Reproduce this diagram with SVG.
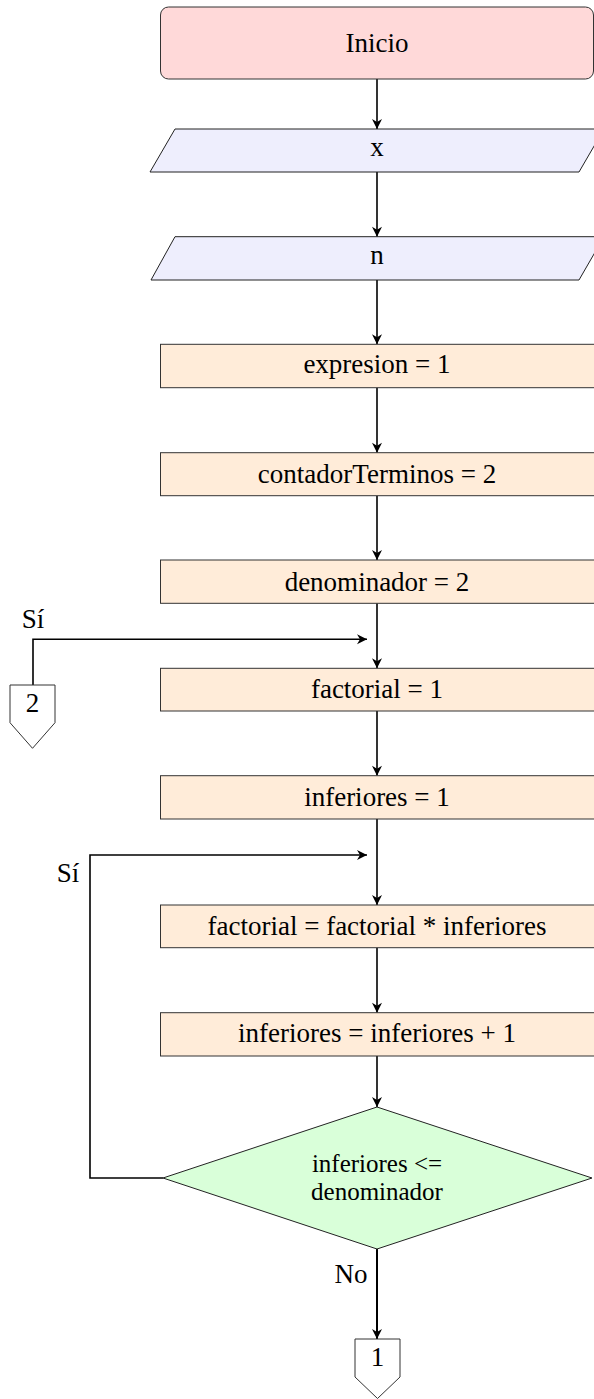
<svg xmlns="http://www.w3.org/2000/svg" width="594" height="1399" viewBox="0 0 594 1399" font-family="'Liberation Serif', 'DejaVu Serif', serif">
<defs>
<style>
text{font-family:'Liberation Serif','DejaVu Serif',serif}
.t{font-size:27px;fill:#000;text-anchor:middle}
.proc{fill:#ffecd9;stroke:#333;stroke-width:1}
.io{fill:#eeeefd;stroke:#222;stroke-width:1}
.start{fill:#ffd9d9;stroke:#333;stroke-width:1}
.dec{fill:#d9ffd9;stroke:#222;stroke-width:1}
.conn{fill:#fff;stroke:#333;stroke-width:1}
.edge{fill:none;stroke:#000;stroke-width:1.6}
</style>
<marker id="arr" viewBox="-11 -6 12 12" refX="0" refY="0" markerWidth="12" markerHeight="12" markerUnits="userSpaceOnUse" orient="auto">
<path d="M0,0 L-10,-5 L-7,0 L-10,5 Z" fill="#000"/>
</marker>
</defs>
<g id="connectors">
<line class="edge" x1="377" y1="79" x2="377" y2="129" marker-end="url(#arr)"/>
<line class="edge" x1="377" y1="172" x2="377" y2="236.7" marker-end="url(#arr)"/>
<line class="edge" x1="377" y1="280" x2="377" y2="344.3" marker-end="url(#arr)"/>
<line class="edge" x1="377" y1="387.7" x2="377" y2="452.7" marker-end="url(#arr)"/>
<line class="edge" x1="377" y1="495.7" x2="377" y2="560" marker-end="url(#arr)"/>
<line class="edge" x1="377" y1="603.3" x2="377" y2="668.3" marker-end="url(#arr)"/>
<line class="edge" x1="377" y1="711" x2="377" y2="775.7" marker-end="url(#arr)"/>
<line class="edge" x1="377" y1="819" x2="377" y2="905" marker-end="url(#arr)"/>
<line class="edge" x1="377" y1="947.7" x2="377" y2="1012.7" marker-end="url(#arr)"/>
<line class="edge" x1="377" y1="1056" x2="377" y2="1107" marker-end="url(#arr)"/>
<line class="edge" x1="377" y1="1249" x2="377" y2="1339" marker-end="url(#arr)" style="stroke-width:2"/>
<polyline class="edge" points="163,1178 90,1178 90,855 367,855" marker-end="url(#arr)"/>
<polyline class="edge" points="33,685 33,639.3 367,639.3" marker-end="url(#arr)"/>
<text class="t" x="351" y="1283.3">No</text>
<text class="t" x="33" y="628.3">Sí</text>
<text class="t" x="68" y="881.7">Sí</text>
</g>
<g id="inicio">
<rect class="start" x="160.5" y="7" width="433" height="72" rx="8"/>
<text class="t" x="377" y="52">Inicio</text>
</g>
<g id="in-x">
<polygon class="io" points="175,129 604,129 579,172 150,172"/>
<text class="t" x="377" y="156.3">x</text>
</g>
<g id="in-n">
<polygon class="io" points="175,236.7 604,236.7 579,280 151,280"/>
<text class="t" x="377" y="264">n</text>
</g>
<g id="expresion">
<rect class="proc" x="160.5" y="344.3" width="434" height="43.4"/>
<text class="t" x="377" y="372.7">expresion = 1</text>
</g>
<g id="contador">
<rect class="proc" x="160.5" y="452.7" width="434" height="43"/>
<text class="t" x="377" y="483">contadorTerminos = 2</text>
</g>
<g id="denominador">
<rect class="proc" x="160.5" y="560" width="434" height="43.3"/>
<text class="t" x="377" y="590.5">denominador = 2</text>
</g>
<g id="factorial1">
<rect class="proc" x="160.5" y="668.3" width="434" height="42.7"/>
<text class="t" x="377" y="698">factorial = 1</text>
</g>
<g id="inferiores1">
<rect class="proc" x="160.5" y="775.7" width="434" height="43.3"/>
<text class="t" x="377" y="806">inferiores = 1</text>
</g>
<g id="factorialMul">
<rect class="proc" x="160.5" y="905" width="434" height="42.7"/>
<text class="t" x="377" y="935">factorial = factorial * inferiores</text>
</g>
<g id="inferioresInc">
<rect class="proc" x="160.5" y="1012.7" width="434" height="43.3"/>
<text class="t" x="377" y="1042">inferiores = inferiores + 1</text>
</g>
<g id="decision">
<polygon class="dec" points="377,1107 592,1178 377,1249 163,1178"/>
<text class="t" x="377" y="1172" style="font-size:25px">inferiores &lt;=</text>
<text class="t" x="377" y="1200" style="font-size:25px">denominador</text>
</g>
<g id="conector1">
<polygon class="conn" points="355,1339 400,1339 400,1377 377.5,1398.5 355,1377"/>
<text class="t" x="377.5" y="1365.7">1</text>
</g>
<g id="conector2">
<polygon class="conn" points="10,685 55,685 55,722.7 32.5,748.3 10,722.7"/>
<text class="t" x="32.5" y="711.7">2</text>
</g>
</svg>
